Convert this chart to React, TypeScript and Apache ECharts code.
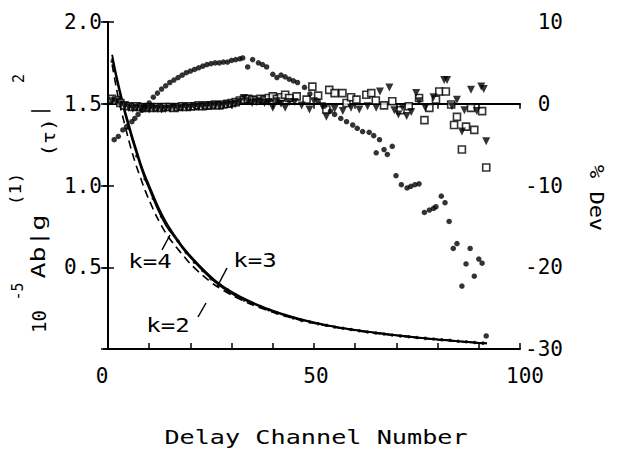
import React, { useEffect, useRef } from "react";
import * as echarts from "echarts";

// ---- Data ----
const curveX = [1, 2, 3, 4, 5, 6, 7, 8, 9, 10, 12, 14, 16, 18, 20, 23, 26, 30, 35, 40, 45, 50, 55, 60, 65, 70, 75, 80, 85, 90, 92];
const fitK2 = [1.74, 1.6, 1.48, 1.38, 1.28, 1.19, 1.11, 1.04, 0.97, 0.91, 0.8, 0.71, 0.64, 0.58, 0.52, 0.45, 0.39, 0.33, 0.27, 0.225, 0.187, 0.157, 0.133, 0.113, 0.096, 0.082, 0.069, 0.057, 0.046, 0.036, 0.033];
const fitK3 = [1.78, 1.66, 1.55, 1.45, 1.36, 1.27, 1.19, 1.11, 1.04, 0.98, 0.86, 0.76, 0.69, 0.62, 0.56, 0.48, 0.41, 0.34, 0.28, 0.23, 0.19, 0.16, 0.135, 0.115, 0.098, 0.083, 0.07, 0.058, 0.047, 0.037, 0.034];
const fitK4 = [1.8, 1.68, 1.57, 1.47, 1.38, 1.29, 1.21, 1.13, 1.06, 1.0, 0.88, 0.78, 0.7, 0.63, 0.57, 0.49, 0.42, 0.35, 0.285, 0.235, 0.195, 0.163, 0.137, 0.117, 0.1, 0.084, 0.071, 0.059, 0.048, 0.038, 0.035];

const measX = [1, 3, 5, 7, 9, 11, 13, 15, 17, 19, 21, 23, 25, 27, 29, 31, 33, 35, 37, 39, 41, 43, 45, 47, 49, 51, 53, 55, 57, 59, 61, 63, 65, 67, 69, 71, 73, 75, 77, 79, 81, 83, 85, 87, 89, 91];
const measY = [1.76, 1.54, 1.35, 1.18, 1.04, 0.92, 0.81, 0.73, 0.66, 0.59, 0.53, 0.48, 0.43, 0.39, 0.36, 0.33, 0.3, 0.28, 0.26, 0.24, 0.22, 0.205, 0.19, 0.175, 0.165, 0.155, 0.145, 0.135, 0.127, 0.119, 0.111, 0.104, 0.098, 0.092, 0.086, 0.08, 0.075, 0.07, 0.065, 0.061, 0.057, 0.053, 0.048, 0.044, 0.04, 0.036];

// % deviation, k=2 (filled circles)
const devK2: [number, number][] = [
  [1.5, -4.4], [2.5, -4.0], [3.6, -3.2], [4.5, -2.8], [5.8, -2.2], [6.5, -1.8], [7.3, -1.3], [8.2, -0.8], [9, -0.3], [10, 0.1],
  [11, 0.8], [12, 1.3], [13, 1.8], [14, 2.2], [15, 2.6], [16, 2.9], [17, 3.2], [18, 3.5], [19, 3.8], [20, 4.0],
  [21, 4.2], [22, 4.4], [23, 4.6], [24, 4.8], [25, 4.9], [26, 5.0], [27, 5.0], [28, 5.1], [29, 5.1], [30, 5.3],
  [31, 5.4], [32, 5.5], [32.7, 5.6], [33.9, 4.5], [35.1, 5.4], [36.5, 5.0], [37.5, 4.8], [38.5, 4.5], [40, 3.6], [41, 3.2],
  [42, 3.5], [43, 3.3], [44, 3.0], [45, 2.8], [46, 2.6], [47.7, 2.0], [49, 1.2], [51, 0.3], [52.5, -0.3], [54, -0.9],
  [55, -1.3], [56.5, -1.8], [57.9, -2.2], [59.4, -2.6], [60.5, -3.0], [61.8, -3.4], [63.4, -3.5], [64.5, -3.9], [65.9, -4.4], [65.1, -6.0],
  [67, -5.6], [67.8, -6.2], [69, -5.2], [69.9, -8.8], [71.2, -9.9], [72.6, -10.3], [73.5, -10.1], [74.5, -9.9], [75.5, -9.8], [76.8, -13.3],
  [78, -13.0], [79, -12.8], [79.6, -12.6], [80.9, -11.3], [81.8, -12.1], [82.8, -14.4], [83.8, -17.7], [84.7, -17.1], [85.9, -22.3], [86.9, -19.6],
  [87.9, -17.7], [88.9, -21.1], [90, -19.0], [90.8, -19.5], [91.8, -28.4],
];

// % deviation, k=3 (open squares)
const devK3Early = [0.6, 0.4, 0.1, -0.2, -0.3, -0.4, -0.3, -0.4, -0.5, -0.4, -0.5, -0.4, -0.5, -0.4, -0.4, -0.5, -0.4, -0.3, -0.4, -0.3, -0.3, -0.2, -0.3, -0.2, -0.2, -0.1, -0.2, -0.1, 0.0, 0.1, 0.2, 0.4, 0.5, 0.6, 0.5, 0.4, 0.6, 0.5, 0.7, 0.9, 0.6, 0.8, 1.1, 0.7];
const devK3Late: [number, number][] = [
  [45.8, 0.9], [48.2, 0.5], [49.6, 2.1], [51, 1.0], [53, -0.7], [53.7, 1.7], [55, 1.3], [56.9, 1.3], [57.9, 0.1], [59, 0.8],
  [60.3, 0.5], [62.7, 1.1], [63.9, 1.3], [65, 0.4], [67, -0.2], [69, 0.3], [71, -0.8], [73, -0.3], [75.5, 0.7], [76.8, -2.0],
  [78, -0.5], [79.6, 0.5], [80.4, 1.5], [82, 1.5], [83.3, -0.1], [84, -2.6], [84.7, -1.6], [85.9, -5.6], [86.9, -2.8], [88.1, -0.5],
  [88.9, -3.2], [90.8, -0.9], [91.8, -7.8],
];

// % deviation, k=4 (filled triangles)
const devK4Early = [0.3, 0.2, -0.1, -0.3, -0.5, -0.6, -0.5, -0.6, -0.6, -0.7, -0.6, -0.6, -0.7, -0.6, -0.6, -0.5, -0.6, -0.5, -0.5, -0.5, -0.4, -0.4, -0.4, -0.3, -0.3, -0.2, -0.3, -0.2, -0.1, -0.1, 0.0, 0.2, 0.7, 0.3, 0.1, 0.2, 0.3, 0.1, 0.2, -0.5, 0.3, 0.0, -0.5, 0.2];
const devK4Late: [number, number][] = [
  [45.3, 0.2], [47, -0.2], [48.9, -0.7], [50, 0.3], [52, -0.3], [53, -1.6], [55, -0.6], [57, -0.9], [59, -0.5], [61, -0.7],
  [63, -0.3], [65.1, -0.5], [66, 1.5], [68.3, 2.0], [69.5, -0.8], [70.5, -1.3], [71.4, -0.4], [72.5, -1.5], [73.6, -1.0], [74.8, 1.3],
  [75.5, 0.3], [77, -0.5], [79, 0.8], [81.6, 2.9], [82.3, 2.9], [83.5, -0.3], [84.7, 0.5], [85.9, -3.4], [86.5, -0.8], [88.1, 1.7],
  [89.5, -0.9], [90.6, 2.1], [91.2, 1.8], [91.8, -4.6],
];

const zeroLine: [number, number][] = [[0, 0], [100, 0]];

const xLabelValues = [0, 50, 100];
const yLeftLabels = [0.5, 1.0, 1.5, 2.0];

const MONO = "DejaVu Sans Mono";

// pieces of the rotated left axis title: text, position along the reading direction, offset across it, size, stretch
const yTitleParts: [string, number, number, number, number][] = [
  ["10", 11.5, 0, 19, 1],
  ["-5", 41.5, -21, 15, 1],
  ["Ab|g", 86.5, 0, 19, 1.4],
  ["(1)", 144, -22, 15, 1.2],
  ["(τ)", 195.5, 10.5, 17, 1.25],
  ["|", 222, 0, 19, 1],
  ["2", 254.5, -20, 15, 1],
];

export default function App() {
  const ref = useRef<HTMLDivElement>(null);

  useEffect(() => {
    if (!ref.current) return;
    const chart = echarts.init(ref.current, undefined, { renderer: "svg" });

    const pairs = (xs: number[], ys: number[]) => xs.map((x, i) => [x, ys[i]]);
    const early = (ys: number[]) => ys.map((y, i) => [i + 1, y]);

    const axisLine = { show: true, lineStyle: { color: "#000", width: 2 } };
    const labelStyle = { color: "#000", fontSize: 21, fontFamily: MONO };

    const titleOriginX = 38.5;
    const titleOriginY = 333;
    const yTitle = yTitleParts.map(([text, along, across, size, sx]) => ({
      type: "text",
      x: titleOriginX + across,
      y: titleOriginY - along,
      rotation: Math.PI / 2,
      scaleX: sx,
      style: { text, fontSize: size, fontFamily: MONO, fill: "#000", textAlign: "center", textVerticalAlign: "middle" },
    }));

    const option: any = {
      animation: false,
      backgroundColor: "#fff",
      grid: { left: 108, right: 97, top: 22, bottom: 102, containLabel: false },
      xAxis: [
        {
          type: "value", min: 0, max: 100, interval: 10, position: "bottom",
          axisLine, splitLine: { show: false },
          axisTick: { show: true, inside: true, length: 6, lineStyle: { color: "#000", width: 1.5 } },
          axisLabel: {
            ...labelStyle, margin: 16,
            formatter: (v: number) => {
              if (!xLabelValues.includes(v)) return "";
              if (v === xLabelValues[0]) return "{l|" + v + "}";
              if (v === xLabelValues[xLabelValues.length - 1]) return "{r|" + v + "}";
              return "{m|" + v + "}";
            },
            rich: {
              l: { ...labelStyle, padding: [0, 12, 0, 0] },
              m: { ...labelStyle, padding: [0, 0, 0, 4] },
              r: { ...labelStyle, padding: [0, 0, 0, 10] },
            },
          },
        },
        {
          type: "value", min: 0, max: 100, interval: 10, position: "top",
          axisLine, splitLine: { show: false },
          axisTick: { show: true, inside: true, length: 5, lineStyle: { color: "#000", width: 1.5 } },
          axisLabel: { show: false },
        },
      ],
      yAxis: [
        {
          type: "value", min: 0, max: 2, interval: 0.5, position: "left",
          axisLine, splitLine: { show: false },
          axisTick: { show: true, inside: false, length: 5, lineStyle: { color: "#000", width: 1.5 } },
          axisLabel: {
            ...labelStyle, margin: 6,
            formatter: (v: number) => (yLeftLabels.includes(v) ? v.toFixed(1) : ""),
          },
        },
        {
          type: "value", min: -30, max: 10, interval: 10, position: "right",
          axisLine, splitLine: { show: false },
          axisTick: { show: true, inside: true, length: 7, lineStyle: { color: "#000", width: 1.5 } },
          axisLabel: {
            ...labelStyle, margin: 5,
            formatter: (v: number) => (v < 0 ? String(v) : "\u2007" + String(v)),
          },
        },
        {
          type: "value", min: 0, max: 2, interval: 0.5, position: "left",
          axisLine: { show: false }, splitLine: { show: false },
          axisTick: { show: true, inside: true, length: 6, lineStyle: { color: "#000", width: 1.5 } },
          axisLabel: { show: false },
        },
      ],
      series: [
        {
          type: "line", yAxisIndex: 1, data: zeroLine, symbol: "none",
          lineStyle: { color: "#000", width: 1.5 }, silent: true, z: 1,
        },
        {
          name: "k=2 fit", type: "line", yAxisIndex: 0, data: pairs(curveX, fitK2), symbol: "none", smooth: 0.3,
          lineStyle: { color: "#000", width: 1.6, type: [8, 5] }, z: 3,
        },
        {
          name: "k=3 fit", type: "line", yAxisIndex: 0, data: pairs(curveX, fitK3), symbol: "none", smooth: 0.3,
          lineStyle: { color: "#000", width: 1.8 }, z: 3,
        },
        {
          name: "k=4 fit", type: "line", yAxisIndex: 0, data: pairs(curveX, fitK4), symbol: "none", smooth: 0.3,
          lineStyle: { color: "#000", width: 1.8 }, z: 3,
        },
        {
          name: "measured", type: "scatter", yAxisIndex: 0, data: pairs(measX, measY),
          symbol: "circle", symbolSize: 3.5, itemStyle: { color: "#000" }, z: 2,
        },
        {
          name: "dev k=3", type: "scatter", yAxisIndex: 1, data: [...early(devK3Early), ...devK3Late],
          symbol: "rect", symbolSize: 7, itemStyle: { color: "#fff", borderColor: "#000", borderWidth: 1.6 }, z: 4,
        },
        {
          name: "dev k=4", type: "scatter", yAxisIndex: 1, data: [...early(devK4Early), ...devK4Late],
          symbol: "triangle", symbolRotate: 180, symbolSize: 8, itemStyle: { color: "#000" }, z: 5,
        },
        {
          name: "dev k=2", type: "scatter", yAxisIndex: 1, data: devK2,
          symbol: "circle", symbolSize: 5.5, itemStyle: { color: "#000" }, z: 6,
        },
      ],
      graphic: [
        ...yTitle,
        {
          type: "text", x: 597, y: 198, rotation: -Math.PI / 2, scaleX: 1.1,
          style: { text: "% Dev", fontSize: 20, fontFamily: MONO, fill: "#000", textAlign: "center", textVerticalAlign: "middle" },
        },
        {
          type: "text", x: 316, y: 437, scaleX: 1.26,
          style: { text: "Delay Channel Number", fontSize: 20, fontFamily: MONO, fill: "#000", textAlign: "center", textVerticalAlign: "middle" },
        },
        {
          type: "text", x: 150, y: 261, scaleX: 1.2,
          style: { text: "k=4", fontSize: 20, fontFamily: MONO, fill: "#000", textAlign: "center", textVerticalAlign: "middle" },
        },
        {
          type: "text", x: 255, y: 260, scaleX: 1.2,
          style: { text: "k=3", fontSize: 20, fontFamily: MONO, fill: "#000", textAlign: "center", textVerticalAlign: "middle" },
        },
        {
          type: "text", x: 168, y: 325, scaleX: 1.2,
          style: { text: "k=2", fontSize: 20, fontFamily: MONO, fill: "#000", textAlign: "center", textVerticalAlign: "middle" },
        },
        { type: "line", shape: { x1: 162, y1: 250, x2: 170, y2: 235 }, style: { stroke: "#000", lineWidth: 1.5 } },
        { type: "line", shape: { x1: 227, y1: 268, x2: 217, y2: 287 }, style: { stroke: "#000", lineWidth: 1.5 } },
        { type: "line", shape: { x1: 206, y1: 303, x2: 198, y2: 317 }, style: { stroke: "#000", lineWidth: 1.5 } },
      ],
    };

    chart.setOption(option);
    return () => chart.dispose();
  }, []);

  return (
    <div
      ref={ref}
      style={{ position: "fixed", left: 0, top: 0, width: 617, height: 451, background: "#fff" }}
    />
  );
}
